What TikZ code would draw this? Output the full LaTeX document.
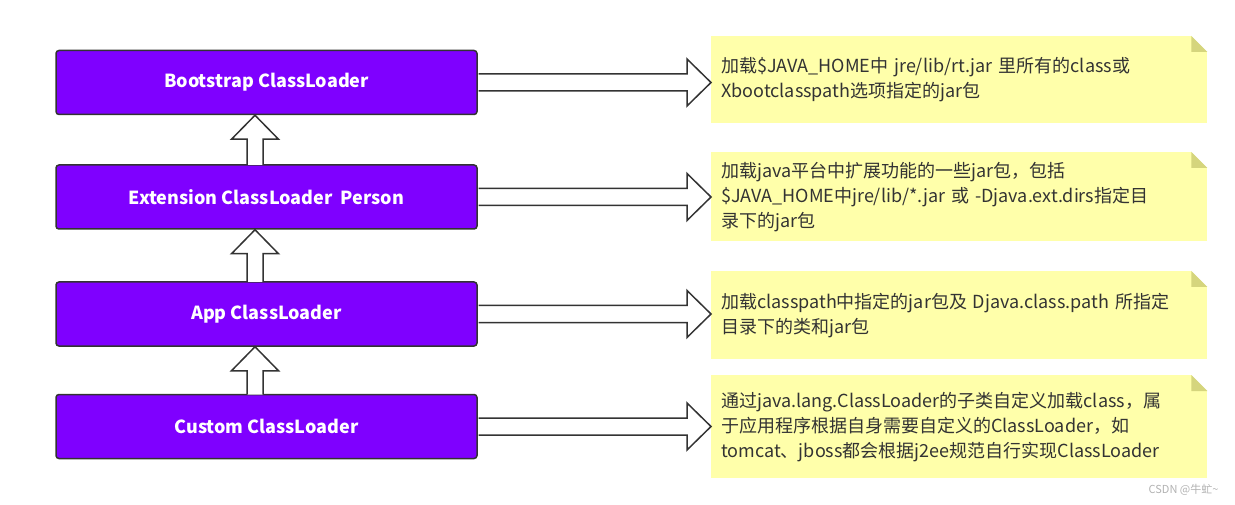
\documentclass[tikz,border=0pt]{standalone}
\usepackage{fontspec}
\setmainfont{Noto Sans CJK SC}
\usetikzlibrary{calc}
\definecolor{loader}{HTML}{7F00FF}
\definecolor{notefill}{HTML}{FFFFAA}
\definecolor{notefold}{HTML}{D5D57D}
\definecolor{edge}{HTML}{333333}
\begin{document}
\begin{tikzpicture}[x = 1pt, y = -1pt]
\tikzstyle{LoaderStyle}=[shape = rectangle,
                         rounded corners = 3pt,
                         draw = edge, line width = 1.5pt,
                         fill = loader, text = white,
                         font = \fontsize{18}{22}\selectfont\bfseries,
                         minimum width = 421pt, minimum height = 64pt,
                         inner sep = 0pt]
\tikzstyle{NoteStyle}=[shape = rectangle, anchor = north west,
                       fill = notefill, text = edge,
                       text width = 476pt, inner xsep = 10pt, inner ysep = 0pt,
                       align = left,
                       font = \fontsize{18}{25}\selectfont]
\tikzstyle{BlockArrow}=[draw = edge, line width = 1.5pt,
                        fill = white, line join = miter]
\useasboundingbox (0,0) rectangle (1235,505);
% class loaders
\node[LoaderStyle] (boot) at (266.5, 82.5) {Bootstrap ClassLoader};
\node[LoaderStyle] (ext) at (266.5, 197) {Extension ClassLoader\ \ Person};
\node[LoaderStyle] (app) at (266.5, 314) {App ClassLoader};
\node[LoaderStyle] (custom) at (266.5, 426.5) {Custom ClassLoader};
% notes
\node[NoteStyle, minimum height = 87pt] (note1) at (711, 36)
  {加载\$JAVA\_HOME中 jre/lib/rt.jar 里所有的class或\\Xbootclasspath选项指定的jar包};
\node[NoteStyle, minimum height = 89pt] (note2) at (711, 152)
  {加载java平台中扩展功能的一些jar包，包括\\\$JAVA\_HOME中jre/lib/*.jar 或 -Djava.ext.dirs指定目\\录下的jar包};
\node[NoteStyle, minimum height = 88pt] (note3) at (711, 271)
  {加载classpath中指定的jar包及 Djava.class.path 所指定\\目录下的类和jar包};
\node[NoteStyle, minimum height = 103pt] (note4) at (711, 375)
  {通过java.lang.ClassLoader的子类自定义加载class，属\\于应用程序根据自身需要自定义的ClassLoader，如\\tomcat、jboss都会根据j2ee规范自行实现ClassLoader};
\foreach \n in {note1, note2, note3, note4} {
  \fill[white] ($(\n.north east)+(-16,0)$) -- (\n.north east) -- ($(\n.north east)+(0,16)$) -- cycle;
  \fill[notefold] ($(\n.north east)+(-16,0)$) -- ($(\n.north east)+(-16,16)$) -- ($(\n.north east)+(0,16)$) -- cycle;
}
% parent delegation arrows
\foreach \lo/\hi in {ext/boot, app/ext, custom/app}
  \draw[BlockArrow] let \p1 = ($(\lo.north)+(-11.5,0)$), \p2 = (\hi.south) in
    (\x1-8pt,\y1-0.75pt) -- (\x1-8pt,\y2-24pt) -- (\x1-23.5pt,\y2-24pt) -- (\x1,\y2)
    -- (\x1+23.5pt,\y2-24pt) -- (\x1+8pt,\y2-24pt) -- (\x1+8pt,\y1-0.75pt);
% arrows to the notes
\foreach \a/\b in {boot/note1, ext/note2, app/note3, custom/note4}
  \draw[BlockArrow] let \p1 = (\a.east), \p2 = (\b.west) in
    (\x1+0.75pt,\y1+8.5pt) -- (\x2-24pt,\y1+8.5pt) -- (\x2-24pt,\y1+23.5pt) -- (\x2,\y1)
    -- (\x2-24pt,\y1-23.5pt) -- (\x2-24pt,\y1-8.5pt) -- (\x1+0.75pt,\y1-8.5pt);
\node[text = gray!60, font = \fontsize{11}{13}\selectfont, anchor = east] (mark) at (1222, 490) {CSDN @牛虻\textasciitilde};
\end{tikzpicture}
\end{document}
